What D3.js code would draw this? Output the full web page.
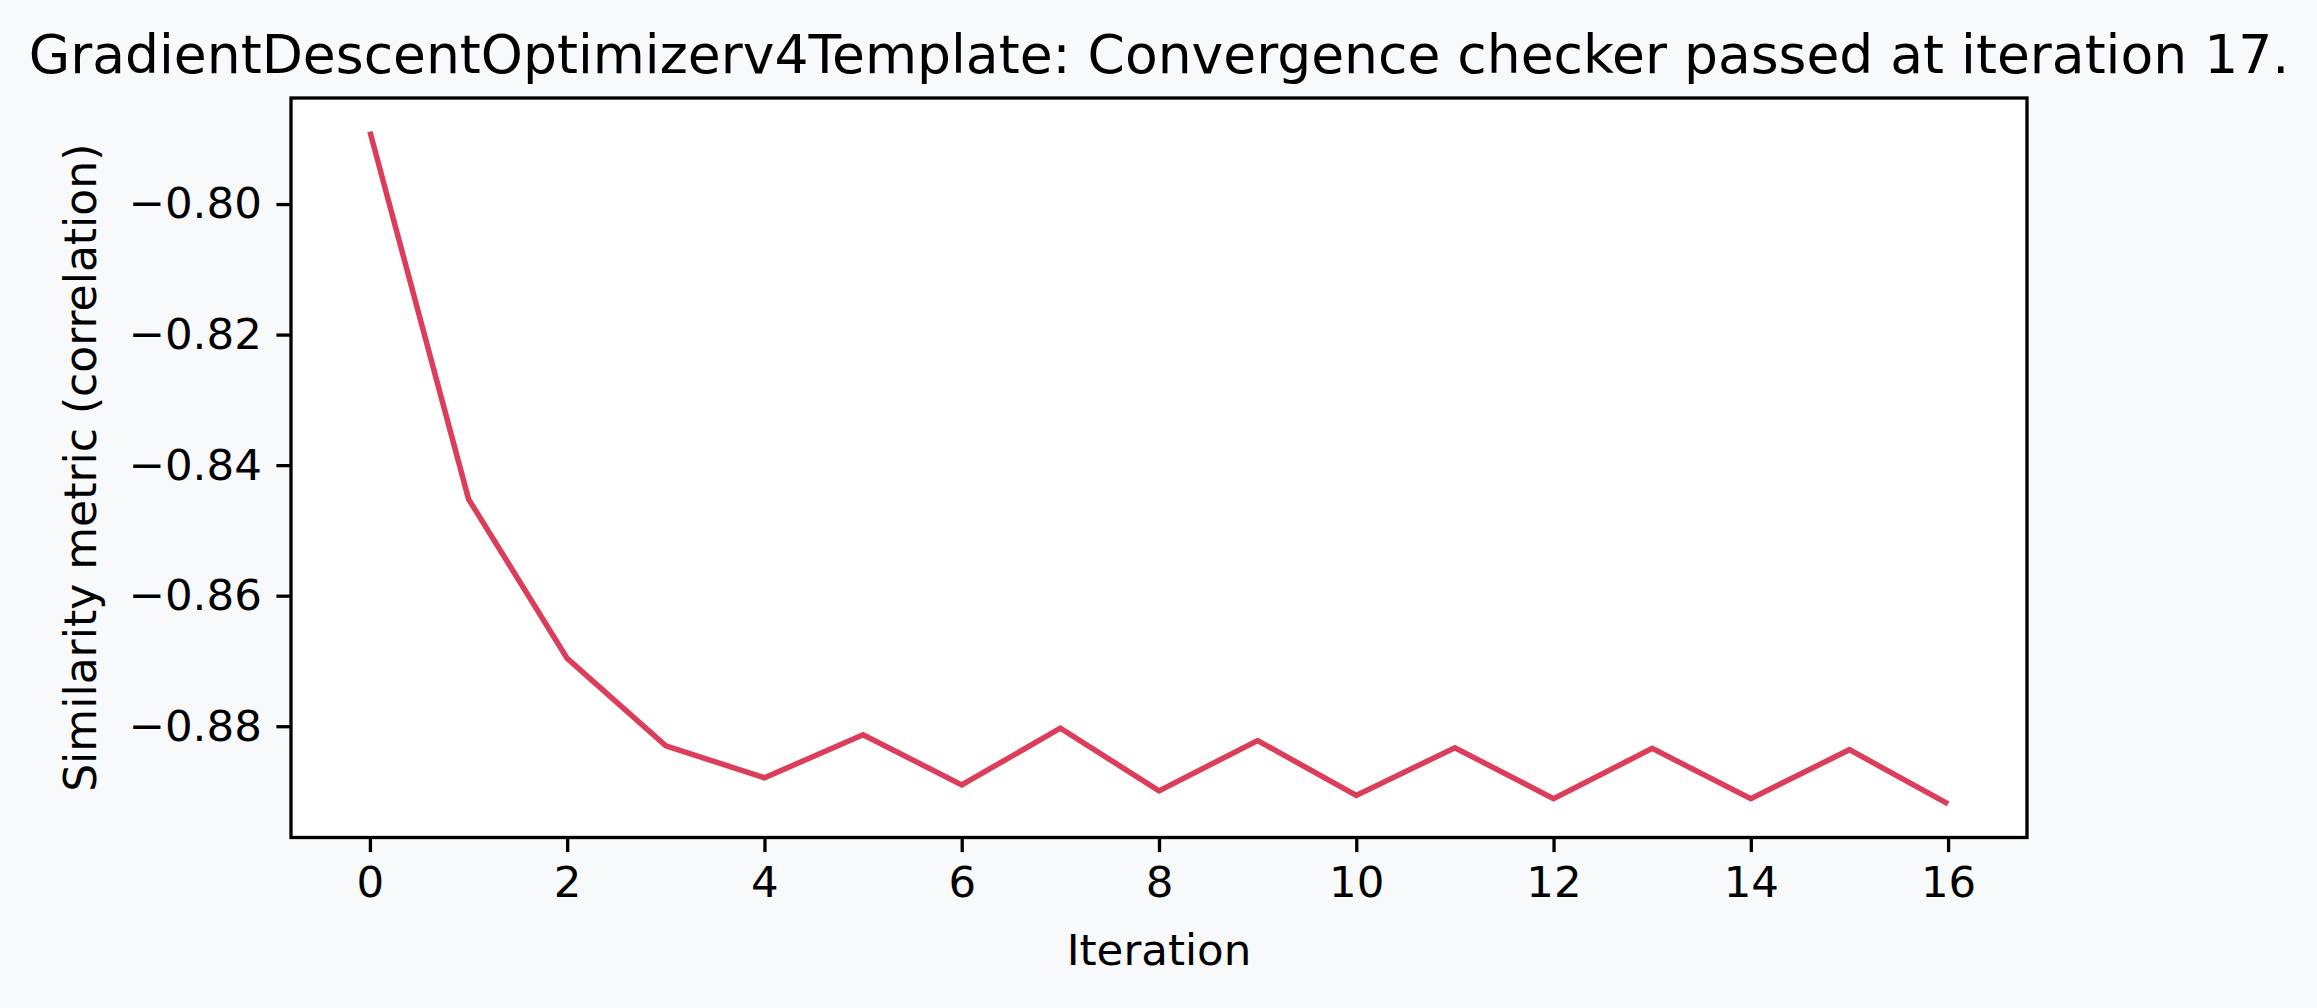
<!DOCTYPE html>
<html>
<head>
<meta charset="utf-8">
<title>Convergence</title>
<script src="https://cdn.jsdelivr.net/npm/d3@7/dist/d3.min.js"></script>
<style>
body { margin: 0; background: #f8f9fa; }
svg { display: block; font-family: "DejaVu Sans", sans-serif; }
</style>
</head>
<body>
<svg width="2317" height="1008"></svg>
<script>

// iteration values
var iterations = [0, 1, 2, 3, 4, 5, 6, 7, 8, 9, 10, 11, 12, 13, 14, 15, 16];
var metric     = [-0.7889, -0.8452, -0.8696, -0.8830, -0.8879, -0.8813, -0.8890, -0.8803,
                  -0.8899, -0.8822, -0.8906, -0.8833, -0.8911, -0.8834, -0.8911, -0.8836, -0.8919];
var xTicks     = [0, 2, 4, 6, 8, 10, 12, 14, 16];
var yTicks     = [-0.80, -0.82, -0.84, -0.86, -0.88];

var titleText  = "GradientDescentOptimizerv4Template: Convergence checker passed at iteration 17.";
var xLabel     = "Iteration";
var yLabel     = "Similarity metric (correlation)";

var m = {left: 291, right: 2027, top: 98, bottom: 837.5};
var v_SVG = d3.select("svg");

// matplotlib style 5% margins
var xPad = (d3.max(iterations) - d3.min(iterations)) * 0.05;
var yMin = d3.min(metric), yMax = d3.max(metric);
var yPad = (yMax - yMin) * 0.05;

var x = d3.scaleLinear()
  .domain([d3.min(iterations) - xPad, d3.max(iterations) + xPad])
  .range([m.left, m.right]);

var y = d3.scaleLinear()
  .domain([yMin - yPad, yMax + yPad])
  .range([m.bottom, m.top]);

v_SVG.append("rect")
  .attr("x", m.left).attr("y", m.top)
  .attr("width", m.right - m.left).attr("height", m.bottom - m.top)
  .attr("fill", "#ffffff");

var line = d3.line()
  .x(function(d, i) { return x(iterations[i]); })
  .y(function(d) { return y(d); });

v_SVG.append("path")
  .datum(metric)
  .attr("d", line)
  .attr("fill", "none")
  .attr("stroke", "#dc3d5a")
  .attr("stroke-width", 5.5)
  .attr("stroke-linejoin", "miter");

var tickFont = 43.5;

var gx = v_SVG.append("g")
  .attr("transform", "translate(0," + m.bottom + ")")
  .call(d3.axisBottom(x).tickValues(xTicks).tickSize(14.6).tickPadding(14).tickFormat(d3.format("d")));

var gy = v_SVG.append("g")
  .attr("transform", "translate(" + m.left + ",0)")
  .call(d3.axisLeft(y).tickValues(yTicks).tickSize(14.6).tickPadding(14.6)
    .tickFormat(function(d) { return d3.format(".2f")(d).replace("-", "\u2212"); }));

[gx, gy].forEach(function(g)
{
  g.select(".domain").remove();
  g.selectAll("line").attr("stroke", "#000").attr("stroke-width", 3.3);
  g.selectAll("text").attr("font-size", tickFont).attr("fill", "#000")
    .attr("font-family", "DejaVu Sans");
});

// frame
v_SVG.append("rect")
  .attr("x", m.left).attr("y", m.top)
  .attr("width", m.right - m.left).attr("height", m.bottom - m.top)
  .attr("fill", "none")
  .attr("stroke", "#000")
  .attr("stroke-width", 3.3);

v_SVG.append("text")
  .attr("x", (m.left + m.right) / 2)
  .attr("y", 73)
  .attr("text-anchor", "middle")
  .attr("font-size", 53.5)
  .text(titleText);

v_SVG.append("text")
  .attr("x", (m.left + m.right) / 2)
  .attr("y", 965)
  .attr("text-anchor", "middle")
  .attr("font-size", 43.5)
  .text(xLabel);

v_SVG.append("text")
  .attr("transform", "translate(96," + (m.top + m.bottom) / 2 + ") rotate(-90)")
  .attr("text-anchor", "middle")
  .attr("font-size", 44)
  .text(yLabel);

</script>
</body>
</html>
